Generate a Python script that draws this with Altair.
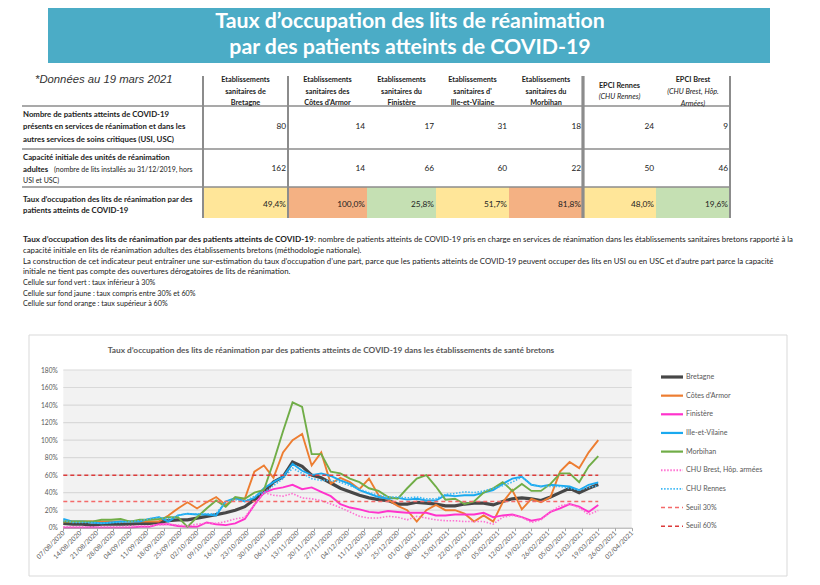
import altair as alt
import numpy as np
import pandas as pd

# ------------------------------------------------------------------ data
TITLE_LINES = ["Taux d’occupation des lits de réanimation",
               "par des patients atteints de COVID-19"]
DATE_NOTE = "*Données au 19 mars 2021"

COLUMNS = ["Bretagne", "Côtes d'Armor", "Finistère", "Ille-et-Vilaine",
           "Morbihan", "EPCI Rennes", "EPCI Brest"]
HEADERS = ["Etablissements\nsanitaires de\nBretagne",
           "Etablissements\nsanitaires des\nCôtes d'Armor",
           "Etablissements\nsanitaires du\nFinistère",
           "Etablissements\nsanitaires d'\nIlle-et-Vilaine",
           "Etablissements\nsanitaires du\nMorbihan"]
EPCI_TITLES = ["EPCI Rennes", "EPCI Brest"]
EPCI_SUBS = ["(CHU Rennes)", "(CHU Brest, Hôp.\nArmées)"]
PATIENTS = [80, 14, 17, 31, 18, 24, 9]
CAPACITE = [162, 14, 66, 60, 22, 50, 46]

ROW1_LABEL = ("Nombre de patients atteints de COVID-19\n"
              "présents en services de réanimation et dans les\n"
              "autres services de soins critiques (USI, USC)")
ROW2_LABEL = "Capacité initiale des unités de réanimation\nadultes"
ROW2_NOTE_A = "(nombre de lits installés au 31/12/2019, hors"
ROW2_NOTE_B = "USI et USC)"
ROW3_LABEL = ("Taux d’occupation des lits de réanimation par des\n"
              "patients atteints de COVID-19")

NOTE_BOLD = "Taux d’occupation des lits de réanimation par des patients atteints de COVID-19"
NOTE_REST = (" : nombre de patients atteints de COVID-19 pris en charge en services de "
             "réanimation dans les établissements sanitaires bretons rapporté à la")
NOTE_LINES = [
    "capacité initiale en lits de réanimation adultes des établissements bretons (méthodologie nationale).",
    "La construction de cet indicateur peut entraîner une sur-estimation du taux d’occupation d’une part, "
    "parce que les patients atteints de COVID-19 peuvent occuper des lits en USI ou en USC et d’autre part parce la capacité",
    "initiale ne tient pas compte des ouvertures dérogatoires de lits de réanimation.",
]
CELL_NOTES = [
    "Cellule sur fond vert :  taux inférieur à 30%",
    "Cellule sur fond jaune : taux compris entre 30% et 60%",
    "Cellule sur fond orange : taux supérieur à 60%",
]

CHART_TITLE = ("Taux d’occupation des lits de réanimation par des patients atteints de "
               "COVID-19 dans les établissements de santé bretons")

DATES = [d.strftime("%Y-%m-%d") for d in pd.date_range("2020-08-07", "2021-03-19", freq="4D")]

BRETAGNE = [5, 4, 4, 3, 4, 4, 4, 4, 5, 5,
            6, 8, 9, 9, 11, 13, 15, 17, 20, 24,
            32, 40, 52, 58, 75, 70, 60, 57, 51, 45,
            41, 37, 34, 32, 31, 27, 27, 29, 28, 27,
            25, 25, 27, 28, 28, 26, 30, 33, 34, 33,
            31, 35, 40, 45, 40, 45, 49.4]
COTES_ARMOR = [7, 7, 7, 7, 7, 7, 7, 7, 7, 7,
               7, 14, 22, 29, 22, 29, 35, 26, 33, 33,
               64, 71, 57, 86, 100, 107, 71, 86, 50, 57,
               52, 44, 56, 37, 32, 25, 20, 7, 20, 26,
               20, 20, 16, 7, 14, 7, 29, 43, 21, 33,
               29, 35, 64, 75, 68, 86, 100]
FINISTERE = [0, 0, 0, 0, 0, 0, 0, 0, 1, 1,
             4, 4, 2, 1, 1, 6, 4, 3, 5, 10,
             26, 40, 44, 46, 49, 44, 46, 41, 36, 27,
             23, 21, 18, 17, 19, 18, 17, 17, 17, 14,
             14, 15, 15, 15, 17, 12, 14, 15, 12, 8,
             10, 18, 22, 27, 24, 18, 25.8]
ILLE_VILAINE = [10, 7, 7, 6, 5, 6, 7, 7, 7, 10,
                12, 7, 14, 16, 15, 15, 14, 30, 34, 30,
                34, 45, 52, 58, 73, 65, 60, 62, 59, 54,
                50, 43, 39, 35, 33, 34, 32, 33, 31, 31,
                37, 36, 37, 37, 40, 43, 50, 56, 58, 49,
                47, 49, 48, 47, 43, 49, 51.7]
MORBIHAN = [7, 7, 7, 7, 9, 9, 10, 7, 9, 9,
            10, 12, 12, 1, 12, 22, 31, 24, 35, 33,
            40, 43, 75, 110, 143, 138, 84, 84, 64, 62,
            56, 52, 45, 42, 35, 33, 45, 56, 60, 47,
            32, 33, 27, 30, 40, 45, 52, 42, 50, 42,
            42, 50, 62, 62, 52, 70, 81.8]
CHU_BREST = [1, 1, 1, 1, 1, 1, 1, 2, 2, 2,
             3, 4, 3, 2, 4, 5, 5, 7, 10, 12,
             26, 40, 37, 36, 39, 34, 33, 31, 27, 23,
             18, 13, 11, 11, 13, 12, 9, 13, 11, 9,
             8, 8, 7, 7, 7, 4, 12, 14, 12, 6,
             9, 18, 25, 27, 23, 15, 19.6]
CHU_RENNES = [8, 6, 6, 6, 5, 6, 6, 7, 8, 10,
              12, 10, 14, 16, 16, 16, 16, 30, 32, 30,
              36, 40, 48, 56, 68, 62, 56, 54, 54, 52,
              48, 44, 40, 37, 35, 35, 34, 35, 33, 33,
              38, 39, 41, 40, 42, 45, 48, 52, 58, 49,
              47, 47, 47, 45, 43, 46, 48]

SERIES_NAMES = ["Bretagne", "Côtes d'Armor", "Finistère", "Ille-et-Vilaine",
                "Morbihan", "CHU Brest, Hôp. armées", "CHU Rennes"]
SERIES_VALUES = [BRETAGNE, COTES_ARMOR, FINISTERE, ILLE_VILAINE,
                 MORBIHAN, CHU_BREST, CHU_RENNES]
SERIES_COLORS = ["#474747", "#ED7D31", "#FF33CC", "#1AA9EF", "#70AD47", "#FF70D2", "#3DB8F5"]
SEUIL_NAMES = ["Seuil 30%", "Seuil 60%"]
SEUIL_VALUES = [30, 60]
SEUIL_COLORS = ["#F46A6A", "#DC3B3B"]

Y_TICKS = [0, 20, 40, 60, 80, 100, 120, 140, 160, 180]
X_TICKS = pd.date_range("2020-08-07", "2021-04-02", freq="7D")

# ------------------------------------------------------------------ style
FONT = "Lato"
W, H = 804, 569
TXT = "#222222"
GREY = "#595959"

ALL_NAMES = SERIES_NAMES + SEUIL_NAMES
ALL_COLORS = SERIES_COLORS + SEUIL_COLORS
SOLID = ["Côtes d'Armor", "Finistère", "Ille-et-Vilaine", "Morbihan"]
DOTTED = ["CHU Brest, Hôp. armées", "CHU Rennes"]


def one(**kw):
    return pd.DataFrame({k: [v] for k, v in kw.items()})


def text_at(s, x, y, size, weight="normal", style="normal", color=TXT,
            align="left", lh=None, font=FONT):
    kw = dict(font=font, fontSize=size, fontWeight=weight, fontStyle=style,
              color=color, align=align, baseline="middle", lineBreak="\n")
    if lh:
        kw["lineHeight"] = lh
    return alt.Chart(one(t=s)).mark_text(**kw).encode(
        text="t:N", x=alt.value(x), y=alt.value(y))


# ------------------------------------------------------------------ banner
banner = alt.Chart(one(a=0)).mark_rect(color="#4BACC6").encode(
    x=alt.value(40), x2=alt.value(762), y=alt.value(0), y2=alt.value(55))
banner_title = text_at("\n".join(TITLE_LINES), 402, 13.5, 21.3, weight="bold",
                       color="white", align="center", lh=26.5)

# ------------------------------------------------------------------ table
col_widths = [85, 79, 69, 73, 74, 73, 74]            # layout of the grid
edges = np.concatenate([[0], np.cumsum(col_widths)])
tab = pd.DataFrame({"col": COLUMNS, "patients": PATIENTS, "capacite": CAPACITE})
tab["x0"] = edges[:-1]
tab["x1"] = edges[1:]
tab["xc"] = (tab["x0"] + tab["x1"]) / 2
tab["taux"] = tab["patients"] / tab["capacite"] * 100
tab["taux_txt"] = [f"{v:.1f}".replace(".", ",") + "%" for v in tab["taux"]]
tab["classe"] = ["vert" if v < 30 else ("jaune" if v <= 60 else "orange") for v in tab["taux"]]
tab["header"] = HEADERS + ["", ""]

xs_tab = alt.Scale(domain=[0, float(edges[-1])], range=[195, 722], nice=False, zero=False)
cell_colors = alt.Scale(domain=["vert", "jaune", "orange"],
                        range=["#C5E0B3", "#FFE699", "#F4B183"])

cells = alt.Chart(tab).mark_rect().encode(
    x=alt.X("x0:Q", scale=xs_tab, axis=None), x2="x1:Q",
    y=alt.value(179), y2=alt.value(210),
    color=alt.Color("classe:N", scale=cell_colors, legend=None))


def values_row(field, y, size=8.3):
    return alt.Chart(tab).mark_text(font=FONT, fontSize=size, color=TXT,
                                    align="right", baseline="middle", dx=-2).encode(
        x=alt.X("x1:Q", scale=xs_tab, axis=None), y=alt.value(y), text=field)


row1_vals = values_row("patients:Q", 119)
row2_vals = values_row("capacite:Q", 161)
row3_vals = values_row("taux_txt:N", 197)

headers = alt.Chart(tab.iloc[:5]).mark_text(
    font=FONT, fontSize=7.3, fontWeight="bold", color=TXT, align="center",
    baseline="middle", lineBreak="\n", lineHeight=11.5).encode(
    x=alt.X("xc:Q", scale=xs_tab, axis=None), y=alt.value(72), text="header:N")

epci = tab.iloc[5:].copy()
epci["titre"] = EPCI_TITLES
epci["sous"] = EPCI_SUBS
epci_r = epci.iloc[[0]]
epci_b = epci.iloc[[1]]


def epci_text(df, field, y, style, weight):
    return alt.Chart(df).mark_text(
        font=FONT, fontSize=7.3, fontWeight=weight, fontStyle=style, color=TXT,
        align="center", baseline="middle", lineBreak="\n", lineHeight=11.3).encode(
        x=alt.X("xc:Q", scale=xs_tab, axis=None), y=alt.value(y), text=field)


epci_layers = [
    epci_text(epci_r, "titre:N", 77.7, "normal", "bold"),
    epci_text(epci_r, "sous:N", 88.7, "italic", "normal"),
    epci_text(epci_b, "titre:N", 72, "normal", "bold"),
    epci_text(epci_b, "sous:N", 84.3, "italic", "normal"),
]

vlines = pd.DataFrame({"e": [edges[0], edges[1], edges[5], edges[7]],
                       "w": [2.0, 2.0, 3.2, 2.0]})
vrules = alt.Chart(vlines).mark_rule(color="#8C8C8C").encode(
    x=alt.X("e:Q", scale=xs_tab, axis=None), y=alt.value(68), y2=alt.value(210),
    strokeWidth=alt.StrokeWidth("w:Q", scale=None, legend=None))

hrules = [alt.Chart(one(a=0)).mark_rule(color="#8C8C8C", strokeWidth=1.5).encode(
    x=alt.value(14), x2=alt.value(722), y=alt.value(yy)) for yy in (98, 141, 179)]

table = alt.layer(cells, *hrules, vrules, headers, *epci_layers,
                  row1_vals, row2_vals, row3_vals)

row_labels = [
    text_at(DATE_NOTE, 27, 72, 11.3, style="italic", color="#333333", font="Liberation Sans"),
    text_at(ROW1_LABEL, 15, 107.3, 7.8, weight="bold", lh=12.2),
    text_at(ROW2_LABEL, 15, 150, 7.8, weight="bold", lh=11.6),
    text_at(ROW2_NOTE_A, 46, 161.8, 7.0),
    text_at(ROW2_NOTE_B, 15, 172.7, 7.0),
    text_at(ROW3_LABEL, 15, 191.7, 7.8, weight="bold", lh=11.4),
]

# ------------------------------------------------------------------ notes
notes = [
    text_at(NOTE_BOLD, 15, 232, 8.2, weight="bold"),
    text_at(NOTE_REST, 306, 232, 7.8),
    text_at("\n".join(NOTE_LINES), 15, 242.8, 7.8, lh=10.8),
    text_at("\n".join(CELL_NOTES), 15, 275, 7.2, lh=10.6),
]

# ------------------------------------------------------------------ line chart
box = alt.Chart(one(a=0)).mark_rect(fill="white", stroke="#D9D9D9", strokeWidth=1).encode(
    x=alt.value(21), x2=alt.value(779), y=alt.value(327), y2=alt.value(568))
plot_bg = alt.Chart(one(a=0)).mark_rect(fill="#F2F2F2").encode(
    x=alt.value(55.3), x2=alt.value(623.7), y=alt.value(362), y2=alt.value(519.7))
chart_title = text_at(CHART_TITLE, 323, 343, 8.3, weight="bold", color=GREY, align="center")

long = pd.DataFrame([
    {"date": d, "serie": n, "value": v}
    for n, vals in zip(SERIES_NAMES, SERIES_VALUES)
    for d, v in zip(DATES, vals)
])
seuils = pd.DataFrame({"name": SEUIL_NAMES, "v": SEUIL_VALUES,
                       "start": DATES[0], "end": DATES[-1]})

xs = alt.Scale(type="utc",
               domain=[alt.DateTime(year=2020, month=8, date=7, utc=True),
                       alt.DateTime(year=2021, month=4, date=2, utc=True)],
               range=[55.3, 623.7])
ys = alt.Scale(domain=[0, 180], range=[519.7, 362], nice=False, zero=False)
cs = alt.Scale(domain=ALL_NAMES, range=ALL_COLORS)

x_axis = alt.Axis(orient="bottom", offset=-(H - 519.7), title=None,
                  values=[alt.DateTime(year=d.year, month=d.month, date=d.day, utc=True)
                          for d in X_TICKS],
                  format="%d/%m/%Y", labelAngle=-45, labelAlign="right",
                  labelBaseline="middle", labelFont=FONT, labelFontSize=6.6,
                  labelColor=GREY, labelPadding=1, tickSize=3, tickColor="#A6A6A6",
                  domainColor="#A6A6A6", domainWidth=1, grid=False,
                  labelOverlap=False, labelFlush=False, labelBound=False, zindex=2)
y_axis = alt.Axis(orient="left", offset=-55.3, title=None, values=Y_TICKS,
                  labelExpr="datum.value + '%'", domain=False, ticks=False,
                  tickSize=0, grid=False, labelPadding=6, labelFont=FONT,
                  labelFontSize=6.6, labelColor=GREY, labelOverlap=False, zindex=2)

X = alt.X("date:T", scale=xs, axis=x_axis)
Y = alt.Y("value:Q", scale=ys, axis=y_axis)
C = alt.Color("serie:N", scale=cs, legend=None)

grid = alt.Chart(pd.DataFrame({"v": Y_TICKS[1:]})).mark_rule(
    color="#D9D9D9", strokeWidth=1.2).encode(
    x=alt.value(55.3), x2=alt.value(623.7), y=alt.Y("v:Q", scale=ys, axis=y_axis))

base = alt.Chart(long).encode(x=X, y=Y, color=C)
line_bzh = base.transform_filter(alt.datum.serie == "Bretagne").mark_line(strokeWidth=3.2)
line_solid = base.transform_filter(
    alt.FieldOneOfPredicate(field="serie", oneOf=SOLID)).mark_line(strokeWidth=1.9)
line_dot = base.transform_filter(
    alt.FieldOneOfPredicate(field="serie", oneOf=DOTTED)).mark_line(
    strokeWidth=1.6, strokeDash=[1.5, 1.6])
seuil_rules = alt.Chart(seuils).mark_rule(strokeWidth=1.5, strokeDash=[4, 3]).encode(
    x=alt.X("start:T", scale=xs, axis=x_axis), x2="end:T",
    y=alt.Y("v:Q", scale=ys, axis=y_axis),
    color=alt.Color("name:N", scale=cs, legend=None))

linechart = alt.layer(grid, line_bzh, line_solid, line_dot, seuil_rules)

# ------------------------------------------------------------------ legend
leg = pd.DataFrame({"name": ALL_NAMES})
ly = alt.Y("name:N", scale=alt.Scale(type="point", domain=ALL_NAMES,
                                     range=[369, 518.2], padding=0), axis=None)
lc = alt.Color("name:N", scale=cs, legend=None)
lbase = alt.Chart(leg).encode(y=ly, color=lc, x=alt.value(653), x2=alt.value(675))
leg_thick = lbase.transform_filter(alt.datum.name == "Bretagne").mark_rule(strokeWidth=3.2)
leg_solid = lbase.transform_filter(
    alt.FieldOneOfPredicate(field="name", oneOf=SOLID)).mark_rule(strokeWidth=2.2)
leg_dot = lbase.transform_filter(
    alt.FieldOneOfPredicate(field="name", oneOf=DOTTED)).mark_rule(
    strokeWidth=1.8, strokeDash=[1.5, 1.6])
leg_dash = lbase.transform_filter(
    alt.FieldOneOfPredicate(field="name", oneOf=SEUIL_NAMES)).mark_rule(
    strokeWidth=1.5, strokeDash=[4, 3])
leg_text = alt.Chart(leg).mark_text(font=FONT, fontSize=7.1, color=GREY, align="left",
                                    baseline="middle").encode(
    y=ly, x=alt.value(678), text="name:N")
legend = alt.layer(leg_thick, leg_solid, leg_dot, leg_dash, leg_text)

# ------------------------------------------------------------------ assemble
chart = alt.layer(
    banner, banner_title, table, *row_labels, *notes,
    box, plot_bg, chart_title, linechart, legend,
).resolve_scale(
    x="independent", y="independent", color="independent", strokeWidth="independent"
).properties(
    width=W, height=H, padding=0, autosize=alt.AutoSizeParams(type="none")
).configure_view(stroke=None)

chart.save("out.html", embed_options={"renderer": "svg", "actions": False})
